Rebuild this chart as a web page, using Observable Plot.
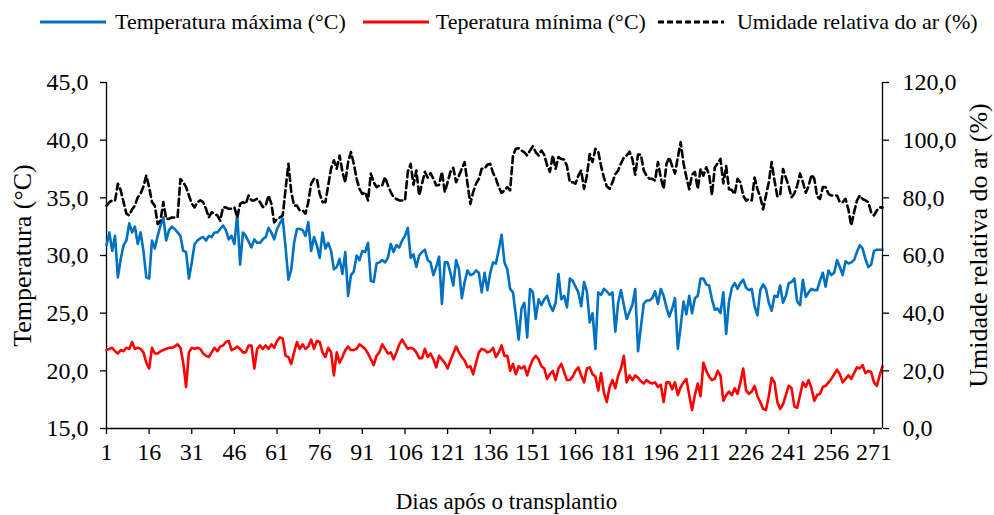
<!DOCTYPE html>
<html>
<head>
<meta charset="utf-8">
<script src="https://cdn.jsdelivr.net/npm/d3@7"></script>
<script src="https://cdn.jsdelivr.net/npm/@observablehq/plot@0.6"></script>
<style>
  html, body { margin: 0; padding: 0; background: #fff; }
  body { width: 994px; height: 515px; overflow: hidden; font-family: "Liberation Serif", "Times New Roman", serif; }
  #legend { box-sizing: border-box; height: 40px; padding-top: 4px; display: flex; align-items: center; padding-left: 40px; font-size: 22px; color: #000; white-space: nowrap; }
  #legend .item { display: flex; align-items: center; }
  #legend svg { display: block; }
  #chart { position: relative; width: 994px; height: 475px; }
  #chart svg { position: absolute; left: 0; top: 0; }
</style>
</head>
<body>
<div id="legend"></div>
<div id="chart"></div>
<script>
// ---- Data ----
const xTicks = [1, 16, 31, 46, 61, 76, 91, 106, 121, 136, 151, 166, 181, 196, 211, 226, 241, 256, 271];
const tempTicks = [15, 20, 25, 30, 35, 40, 45];
const umidTicks = [0, 20, 40, 60, 80, 100, 120];

const seriesNames = ["Temperatura máxima (°C)", "Teperatura mínima (°C)", "Umidade relativa do ar (%)"];
const xTitle = "Dias após o transplantio";
const yLeftTitle = "Temperatura (°C)";
const yRightTitle = "Umidade relativa do ar (%)";

const tmax = [
  30.9, 32.0, 30.4, 31.7, 28.1, 29.7, 30.9, 31.3, 32.8, 32.0,
  32.5, 31.0, 32.0, 30.4, 28.1, 28.0, 31.3, 30.6, 31.7, 32.6,
  33.3, 31.3, 32.2, 32.5, 32.3, 32.0, 31.7, 30.4, 30.3, 28.0,
  29.4, 31.0, 31.3, 31.5, 31.6, 31.3, 31.7, 31.6, 32.0, 32.0,
  32.3, 32.6, 32.2, 31.4, 31.7, 31.0, 33.6, 29.2, 32.0, 31.7,
  31.2, 30.7, 31.4, 31.1, 31.1, 31.4, 31.6, 32.4, 32.0, 31.4,
  32.3, 32.8, 33.2, 30.7, 27.9, 28.8, 31.1, 32.3, 32.3, 32.2,
  31.7, 32.9, 30.4, 31.6, 30.9, 29.8, 32.0, 30.6, 31.1, 30.4,
  28.8, 29.0, 29.7, 28.4, 30.3, 26.5, 28.3, 28.6, 30.0, 29.6,
  30.4, 30.3, 31.1, 27.8, 27.7, 29.3, 29.4, 29.6, 29.4, 29.8,
  31.0, 30.3, 30.9, 30.7, 31.3, 31.7, 32.4, 29.8, 30.1, 29.0,
  30.0, 30.3, 30.5, 29.6, 29.4, 28.3, 29.0, 29.9, 25.8, 29.4,
  29.4, 28.5, 27.4, 29.6, 28.8, 26.3, 27.7, 28.7, 28.3, 28.4,
  28.7, 28.5, 26.8, 28.5, 27.0, 28.5, 29.4, 29.3, 30.5, 31.8,
  29.4, 28.8, 27.1, 26.8, 24.8, 22.7, 25.4, 25.9, 22.9, 27.1,
  26.8, 24.5, 26.2, 25.7, 26.2, 26.5, 25.7, 25.2, 25.9, 28.4,
  26.2, 26.5, 25.5, 28.0, 27.8, 27.3, 26.8, 25.6, 27.7, 26.9,
  24.2, 25.0, 21.9, 26.8, 26.6, 27.1, 26.9, 26.6, 26.8, 23.4,
  25.9, 27.0, 25.7, 24.5, 25.1, 25.7, 27.1, 21.7, 23.8, 25.8,
  26.1, 26.1, 26.3, 26.9, 25.8, 27.1, 26.5, 25.5, 24.7, 25.4,
  26.3, 21.9, 23.9, 26.0, 24.9, 26.5, 25.0, 26.3, 26.5, 28.0,
  28.0, 27.5, 27.4, 26.2, 25.3, 25.4, 25.0, 26.8, 23.2, 26.0,
  27.2, 27.6, 27.1, 27.6, 27.9, 27.2, 27.0, 27.1, 25.6, 24.8,
  27.0, 27.5, 27.1, 25.9, 25.2, 26.5, 26.4, 27.4, 25.9, 26.5,
  27.6, 27.7, 28.0, 26.0, 25.7, 27.9, 26.4, 26.8, 27.1, 27.0,
  27.0, 27.8, 28.5, 27.3, 28.7, 28.3, 28.5, 29.6, 29.0, 28.3,
  29.5, 29.3, 29.4, 29.6, 30.3, 30.9, 30.6, 29.7, 29.0, 29.2,
  30.4, 30.5, 30.5, 30.5
];

const tmin = [
  21.8, 21.9, 22.0, 21.7, 21.5, 21.8, 21.7, 22.0, 21.9, 22.5,
  21.9, 22.0, 21.9, 21.6, 20.7, 20.2, 22.0, 21.5, 21.5, 21.7,
  21.8, 21.9, 22.0, 22.0, 22.1, 22.3, 22.0, 20.7, 18.6, 21.6,
  22.0, 21.9, 22.0, 21.9, 21.5, 21.3, 21.2, 21.6, 22.0, 21.7,
  22.1, 22.2, 22.5, 22.6, 21.8, 21.9, 22.1, 21.9, 21.6, 21.6,
  22.2, 22.2, 20.2, 21.9, 22.2, 21.9, 22.2, 21.9, 22.3, 22.0,
  22.6, 22.9, 22.8, 21.3, 21.2, 20.6, 21.6, 22.5, 21.9, 22.3,
  21.9, 22.1, 22.7, 21.9, 22.6, 22.5, 21.6, 21.2, 22.0, 21.6,
  19.6, 21.6, 20.7, 21.2, 21.8, 22.1, 21.8, 21.8, 21.9, 22.3,
  22.1, 21.9, 21.5, 21.0, 20.5, 21.3, 21.6, 22.3, 21.9, 21.5,
  21.6, 21.0, 21.6, 22.3, 22.7, 22.3, 21.9, 22.0, 21.9, 21.6,
  21.1, 21.1, 21.9, 21.2, 21.5, 21.0, 20.3, 21.3, 21.0, 20.7,
  20.2, 20.9, 21.5, 22.1, 21.6, 21.2, 20.9, 20.3, 20.4, 19.7,
  20.7, 21.6, 21.9, 21.8, 21.6, 21.7, 22.0, 21.2, 21.6, 22.2,
  21.3, 21.3, 20.0, 20.6, 19.7, 20.4, 20.2, 20.4, 19.6, 20.4,
  21.0, 21.3, 21.0, 20.4, 20.2, 19.3, 19.7, 20.0, 19.2, 20.2,
  20.6, 19.9, 19.2, 19.2, 19.5, 20.0, 20.3, 19.6, 19.0, 20.2,
  20.3, 19.7, 19.5, 18.3, 19.8, 18.1, 17.3, 18.6, 19.2, 18.5,
  19.6, 20.2, 21.3, 19.0, 19.6, 19.2, 19.6, 19.4, 19.1, 18.9,
  19.2, 19.0, 18.9, 19.0, 18.6, 18.8, 17.3, 19.0, 19.0, 18.4,
  19.0, 17.9, 18.6, 19.0, 19.3, 17.9, 16.6, 17.9, 18.9, 17.8,
  20.7, 20.0, 19.5, 19.2, 19.3, 20.0, 19.6, 17.4, 17.9, 18.2,
  17.9, 18.5, 18.0, 19.0, 20.2, 18.3, 18.0, 18.2, 18.7, 17.8,
  17.3, 16.7, 16.6, 17.8, 19.4, 19.0, 17.3, 16.7, 17.1, 17.9,
  18.7, 18.5, 16.9, 16.8, 17.9, 19.0, 18.6, 19.2, 18.5, 17.4,
  17.9, 18.0, 18.6, 18.7, 19.0, 19.3, 19.7, 20.1, 19.7, 19.0,
  19.3, 19.6, 19.3, 19.8, 20.3, 20.2, 20.5, 19.8, 20.0, 19.9,
  19.0, 18.7, 19.6, 20.4
];

const umid = [
  77.3, 78.5, 79.1, 79.0, 84.9, 82.6, 78.5, 74.5, 73.9, 76.0,
  77.3, 80.2, 81.4, 84.0, 87.7, 83.7, 78.5, 77.3, 70.9, 72.1,
  78.5, 72.7, 72.7, 73.2, 73.2, 73.2, 86.5, 85.4, 83.7, 80.8,
  78.0, 76.7, 78.5, 79.1, 78.5, 76.2, 73.2, 75.0, 74.5, 73.9,
  72.1, 76.7, 76.7, 76.2, 76.2, 76.7, 73.2, 77.9, 78.5, 77.9,
  80.8, 79.1, 79.1, 79.7, 78.5, 76.8, 77.3, 80.8, 78.0, 71.5,
  72.7, 73.2, 73.9, 83.1, 91.8, 82.0, 77.3, 77.3, 75.6, 75.6,
  74.5, 78.5, 84.9, 86.6, 86.6, 81.4, 78.5, 78.5, 84.3, 90.1,
  93.0, 90.1, 94.7, 89.0, 85.4, 92.4, 95.9, 91.8, 86.6, 83.1,
  81.4, 82.0, 79.1, 88.4, 85.4, 83.7, 84.3, 84.3, 87.2, 84.3,
  82.0, 80.2, 79.6, 79.1, 79.1, 79.1, 89.0, 91.8, 84.5, 89.5,
  80.8, 84.9, 89.0, 87.0, 88.6, 86.6, 84.3, 84.5, 89.0, 82.0,
  85.4, 89.0, 90.4, 85.4, 87.7, 90.1, 92.4, 84.9, 77.9, 82.0,
  84.9, 86.6, 90.1, 90.1, 91.5, 91.8, 88.6, 86.6, 83.7, 81.7,
  82.6, 83.7, 82.6, 94.7, 97.0, 97.2, 96.4, 95.8, 94.7, 96.4,
  97.9, 95.8, 94.7, 96.4, 94.9, 91.3, 89.0, 94.7, 90.1, 94.1,
  93.5, 93.3, 91.0, 85.4, 85.4, 84.9, 87.7, 89.5, 83.1, 87.7,
  95.2, 92.4, 97.0, 96.0, 91.0, 87.0, 84.0, 83.1, 85.4, 88.2,
  89.5, 92.0, 94.0, 94.7, 96.0, 93.5, 88.0, 95.0, 95.0, 89.5,
  87.7, 86.6, 86.6, 86.0, 92.4, 87.0, 83.1, 91.8, 94.0, 91.0,
  88.4, 94.0, 99.3, 92.0, 87.2, 83.0, 88.0, 89.0, 83.1, 90.0,
  87.7, 90.6, 88.0, 81.0, 90.6, 92.0, 93.5, 85.0, 91.0, 83.0,
  82.7, 81.3, 86.6, 85.4, 80.8, 79.0, 79.6, 79.1, 87.0, 83.0,
  80.3, 76.0, 80.8, 85.4, 92.4, 86.0, 80.5, 81.0, 90.0, 87.0,
  84.0, 80.2, 81.5, 84.3, 88.4, 85.4, 81.8, 84.0, 88.0, 86.6,
  80.5, 79.6, 83.7, 83.7, 81.4, 80.8, 80.8, 80.8, 78.5, 78.5,
  79.6, 76.0, 70.4, 75.0, 79.0, 80.8, 79.6, 79.1, 78.5, 75.0,
  73.9, 75.6, 76.7, 76.6
];

// ---- Styles ----
const colors = ["#0070C0", "#FF0000", "#000000"];
const dash = "7,4";
const fontFamily = "'Liberation Serif', 'Times New Roman', Times, serif";
const fmt = d => d.toFixed(1).replace(".", ",");

const rows = (arr) => arr.map((v, i) => ({dia: i + 1, v}));
const nDays = tmax.length;

// ---- Legend (HTML, above the SVG) ----
const legend = document.getElementById("legend");
const legendSpec = [
  {name: seriesNames[0], color: colors[0], dash: null, gapAfter: 17, pad: 9},
  {name: seriesNames[1], color: colors[1], dash: null, gapAfter: 12, pad: 7},
  {name: seriesNames[2], color: colors[2], dash: "6,3", gapAfter: 0, pad: 13}
];
for (const s of legendSpec) {
  const item = document.createElement("span");
  item.className = "item";
  item.style.marginRight = s.gapAfter + "px";
  item.innerHTML = `<svg width="66" height="10"><line x1="0" y1="5" x2="66" y2="5" stroke="${s.color}" stroke-width="3" ${s.dash ? `stroke-dasharray="${s.dash}"` : ""}/></svg><span style="margin-left:${s.pad}px">${s.name}</span>`;
  legend.appendChild(item);
}

// ---- Chart ----
const W = 994, H = 475;
const margins = {marginTop: 42, marginBottom: 87, marginLeft: 106, marginRight: 112};
const style = {fontFamily, fontSize: "24px", color: "#000", background: "transparent", overflow: "visible"};

const tempPlot = Plot.plot({
  width: W, height: H, ...margins, style,
  x: {domain: [1, nDays]},
  y: {domain: [15, 45]},
  marks: [
    Plot.axisX({ticks: xTicks, tickSize: 6, tickPadding: 8, tickFormat: d => String(d), strokeWidth: 1.3, label: null}),
    Plot.axisY({ticks: tempTicks, tickSize: 6, tickPadding: 12, tickFormat: fmt, strokeWidth: 1.3, label: null}),
    Plot.ruleX([1], {stroke: "#000", strokeWidth: 1.3}),
    Plot.ruleY([15], {stroke: "#000", strokeWidth: 1.3}),
    Plot.text([xTitle], {frameAnchor: "bottom", dx: 12, dy: 73, textAnchor: "middle", lineAnchor: "middle", fontSize: 23, fill: "#000"}),
    Plot.text([yLeftTitle], {frameAnchor: "left", dx: -84, rotate: -90, textAnchor: "middle", lineAnchor: "middle", fontSize: 26, fill: "#000"}),
    Plot.lineY(rows(tmin), {x: "dia", y: "v", stroke: colors[1], strokeWidth: 2.6}),
    Plot.lineY(rows(tmax), {x: "dia", y: "v", stroke: colors[0], strokeWidth: 2.6})
  ]
});

const umidPlot = Plot.plot({
  width: W, height: H, ...margins, style,
  x: {domain: [1, nDays], axis: null},
  y: {domain: [0, 120], axis: null},
  marks: [
    Plot.axisY({anchor: "right", ticks: umidTicks, tickSize: 6, tickPadding: 14, tickFormat: fmt, strokeWidth: 1.3, label: null}),
    Plot.ruleX([nDays], {stroke: "#000", strokeWidth: 1.3}),
    Plot.text([yRightTitle], {frameAnchor: "right", dx: 96, dy: -10, rotate: -90, textAnchor: "middle", lineAnchor: "middle", fontSize: 26, fill: "#000"}),
    Plot.lineY(rows(umid), {x: "dia", y: "v", stroke: colors[2], strokeWidth: 2.6, strokeDasharray: dash})
  ]
});

const chart = document.getElementById("chart");
chart.appendChild(tempPlot);
chart.appendChild(umidPlot);
</script>
</body>
</html>
